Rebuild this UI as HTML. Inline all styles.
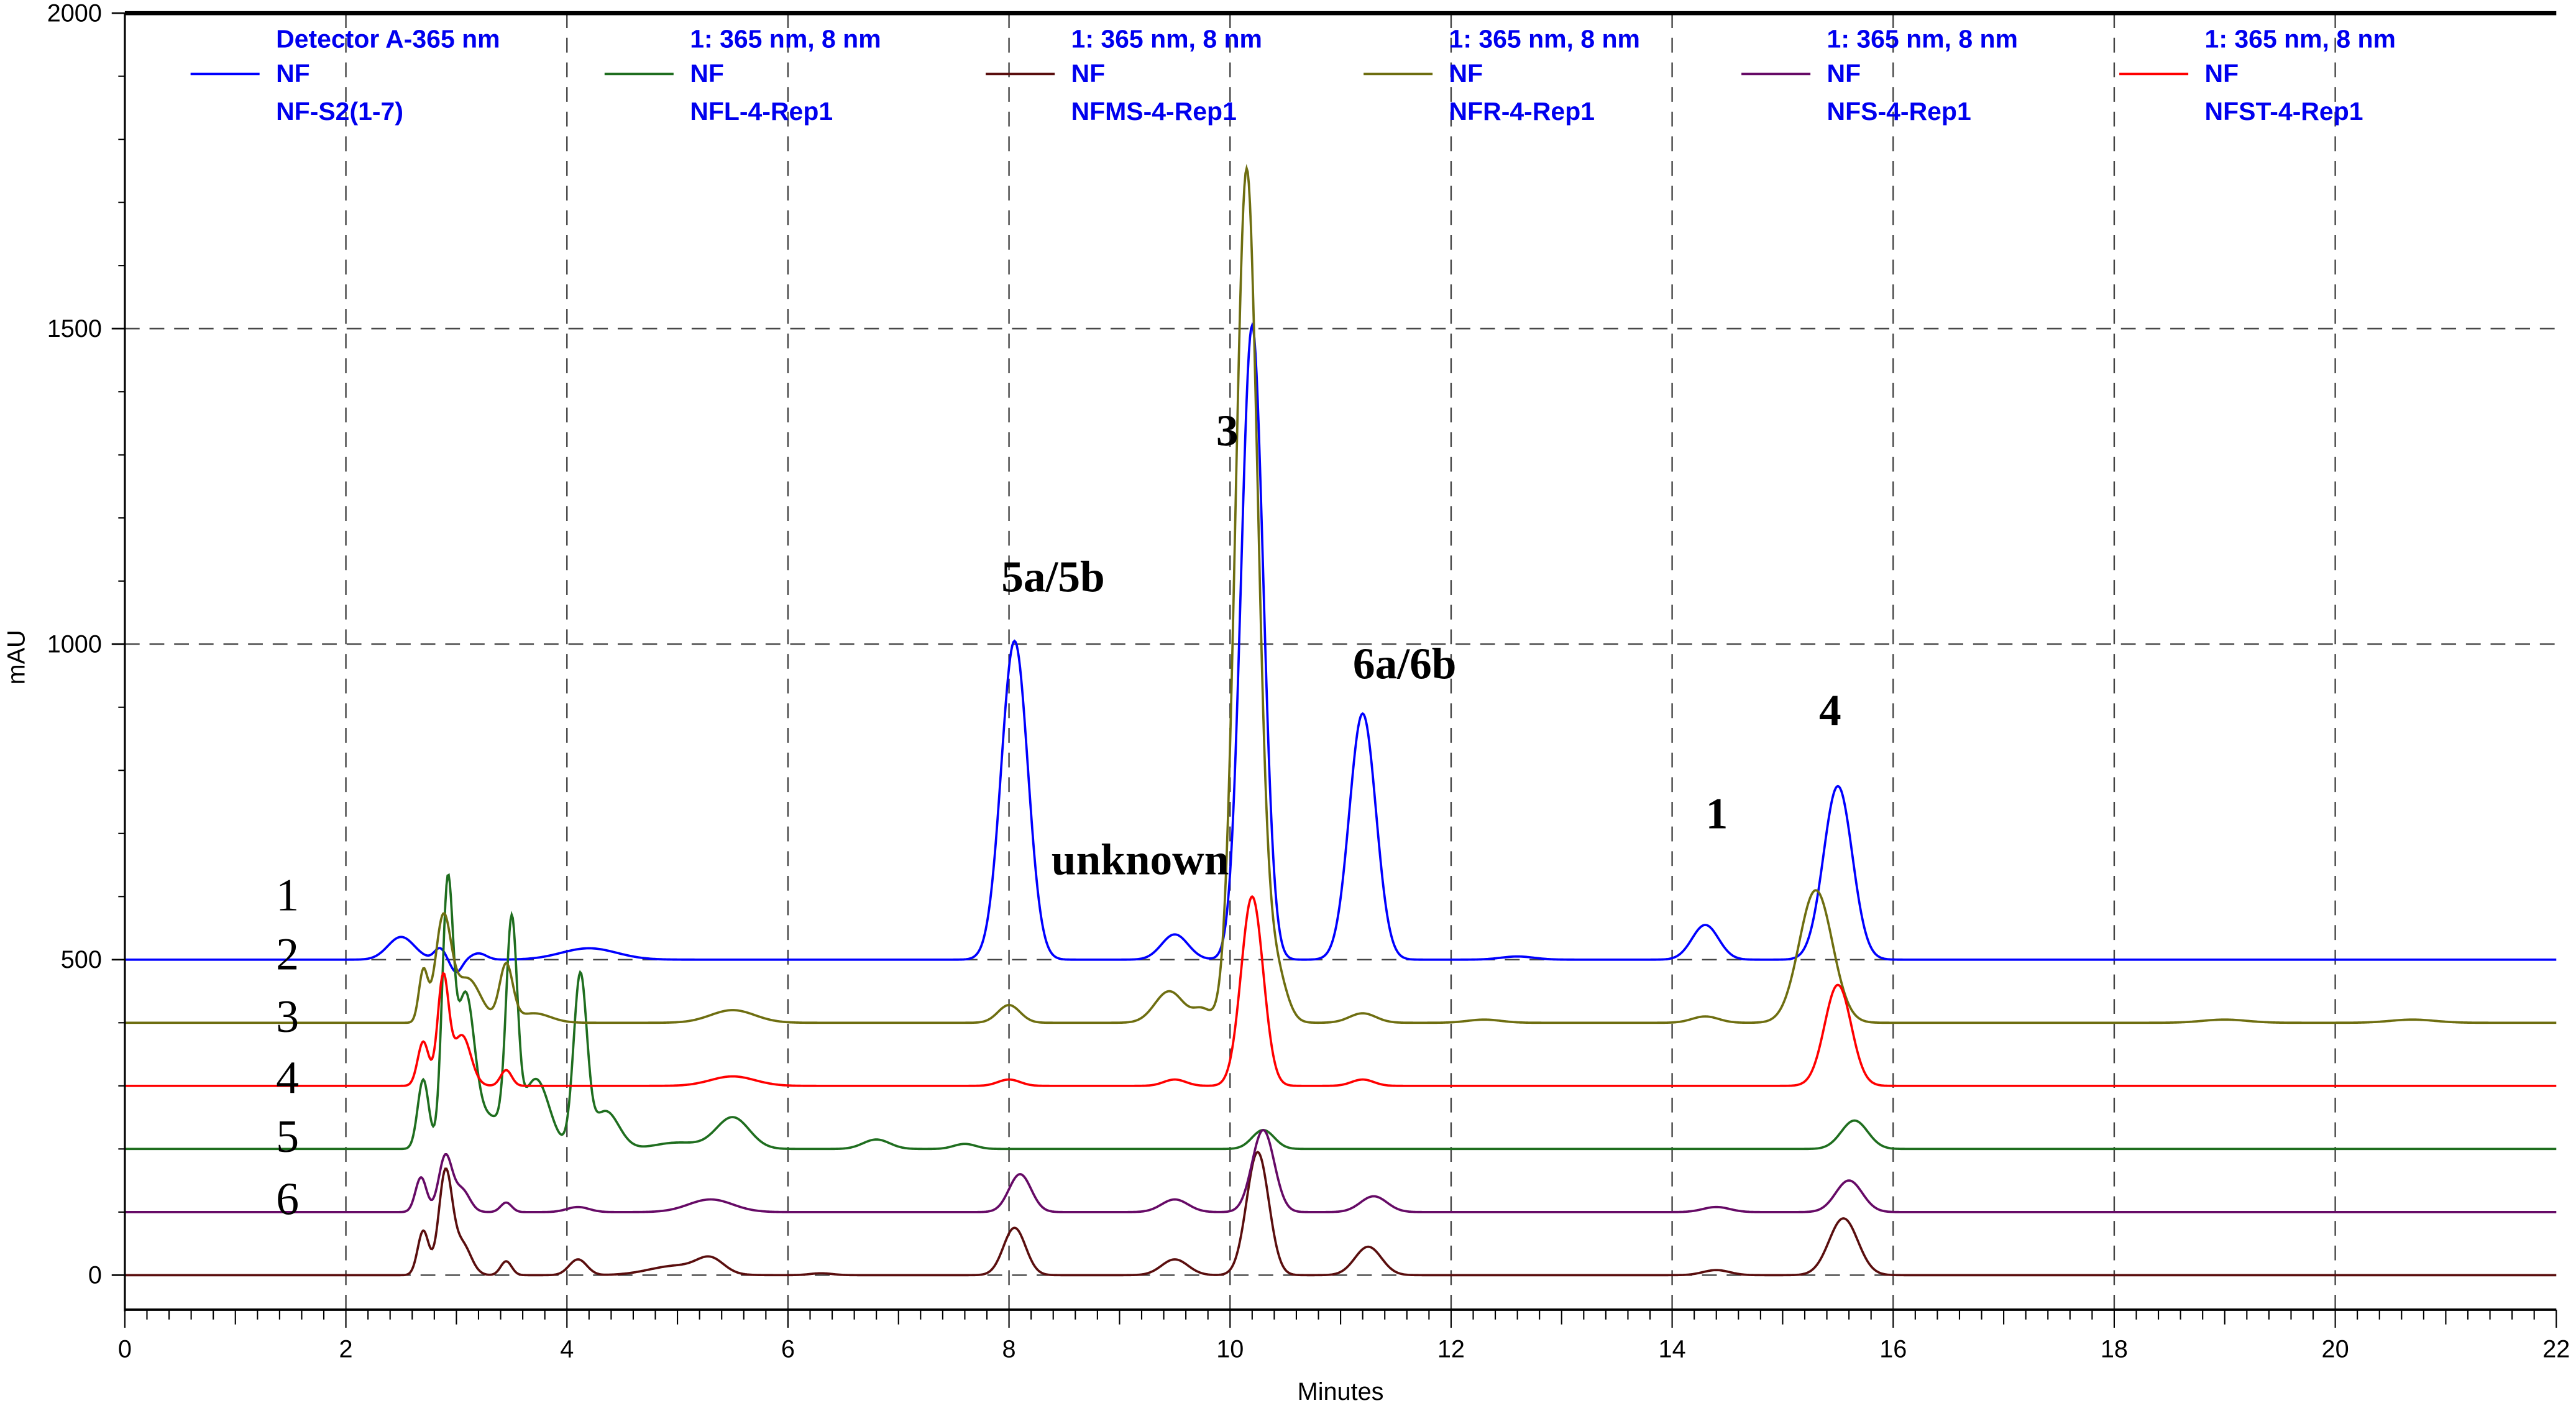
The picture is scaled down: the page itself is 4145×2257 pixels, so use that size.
<!DOCTYPE html>
<html><head><meta charset="utf-8"><style>html,body{margin:0;padding:0;background:#fff}svg{display:block}</style></head>
<body>
<svg id="chart" width="4145" height="2257" viewBox="0 0 1568 853.8" preserveAspectRatio="none" xmlns="http://www.w3.org/2000/svg" font-family="Liberation Sans, Arial, sans-serif">
<g id="grid"></g>
<g id="series"></g>
<g id="axes"></g>
<g id="legend"></g>
<g id="annot" font-family="Liberation Serif, Times New Roman, serif"></g>
</svg>
<script>
const xTicks=[0,2,4,6,8,10,12,14,16,18,20,22];
const yTicks=[0,500,1000,1500,2000];
const seriesNames=["NF-S2(1-7)","NFL-4-Rep1","NFMS-4-Rep1","NFR-4-Rep1","NFS-4-Rep1","NFST-4-Rep1"];
const seriesHeaders=["Detector A-365 nm","1: 365 nm, 8 nm","1: 365 nm, 8 nm","1: 365 nm, 8 nm","1: 365 nm, 8 nm","1: 365 nm, 8 nm"];
const seriesColors=["#0000ff","#1f6e1f","#5a0e0e","#6e6e10","#660a66","#ff0000"];
const seriesOffsets=[500,200,0,400,100,300];
// peaks: [time(min), height(mAU), width(min)]
const peaksNFS2=[[2.5,36,0.12],[2.85,18,0.05],[3.0,-20,0.05],[3.2,10,0.07],[4.2,18,0.25],[8.05,505,0.12],[9.5,40,0.12],[10.2,1005,0.1],[11.2,390,0.12],[12.6,5,0.15],[14.3,55,0.12],[15.5,275,0.13]];
const peaksNFL=[[2.7,110,0.05],[2.92,400,0.05],[3.08,230,0.08],[3.3,50,0.15],[3.5,330,0.05],[3.72,110,0.12],[4.12,270,0.06],[4.35,60,0.12],[5.0,10,0.2],[5.5,50,0.15],[6.8,15,0.12],[7.6,8,0.1],[10.3,30,0.1],[15.65,45,0.12]];
const peaksNFMS=[[2.7,70,0.05],[2.9,160,0.06],[3.05,50,0.08],[3.45,22,0.05],[4.1,25,0.08],[5.0,15,0.25],[5.3,22,0.12],[6.3,3,0.1],[8.05,75,0.1],[9.5,25,0.12],[10.25,195,0.1],[11.25,45,0.12],[14.4,8,0.12],[15.55,90,0.13]];
const peaksNFR=[[2.7,80,0.04],[2.88,160,0.07],[3.1,70,0.12],[3.45,90,0.06],[3.7,15,0.15],[5.5,20,0.2],[8.0,28,0.1],[9.45,50,0.13],[9.75,20,0.08],[10.15,1350,0.1],[10.4,90,0.1],[11.2,15,0.12],[12.3,5,0.15],[14.3,10,0.12],[15.3,210,0.15],[19,5,0.2],[20.7,5,0.2]];
const peaksNFS=[[2.68,55,0.05],[2.9,88,0.06],[3.05,35,0.07],[3.45,15,0.05],[4.1,8,0.1],[5.3,20,0.2],[8.1,60,0.1],[9.5,20,0.12],[10.3,130,0.1],[11.3,25,0.12],[14.4,8,0.12],[15.6,50,0.12]];
const peaksNFST=[[2.7,70,0.05],[2.88,170,0.05],[3.05,80,0.08],[3.45,25,0.05],[5.5,15,0.2],[8.0,10,0.1],[9.5,10,0.1],[10.2,300,0.1],[11.2,10,0.1],[15.5,160,0.12]];
const seriesPeaks=[peaksNFS2,peaksNFL,peaksNFMS,peaksNFR,peaksNFS,peaksNFST];

const X0=76,X1=1556,Y0=776,Y1=8;
const xs=t=>X0+(t-0)/(22-0)*(X1-X0);
const ys=v=>Y0-(v-0)/(2000-0)*(Y0-Y1);
const NS="http://www.w3.org/2000/svg";
function mk(tag,attrs,parent){const e=document.createElementNS(NS,tag);for(const k in attrs)e.setAttribute(k,attrs[k]);parent.appendChild(e);return e;}
const grid=document.getElementById('grid'),axes=document.getElementById('axes'),ser=document.getElementById('series'),leg=document.getElementById('legend'),ann=document.getElementById('annot');

xTicks.forEach(t=>{
  if(t>0&&t<22){const l=mk('line',{x1:xs(t),x2:xs(t),y1:Y1,y2:797,stroke:'#444','stroke-width':0.9,'stroke-dasharray':'9,6'},grid);
  
  }
  const tx=mk('text',{x:xs(t),y:826,'font-size':15,'text-anchor':'middle',fill:'#000'},axes);tx.textContent=t;
  
  
});
for(let t=0;t<=22.001;t+=0.2){const major=Math.abs(t-Math.round(t))<0.01;mk('line',{x1:xs(t),x2:xs(t),y1:797,y2:797+(major?(Math.round(t)%2==0?11:9):6),stroke:'#000','stroke-width':0.8},axes);}
yTicks.forEach(v=>{
  if(v<2000){const l=mk('line',{x1:X0,x2:X1,y1:ys(v),y2:ys(v),stroke:'#444','stroke-width':0.9,'stroke-dasharray':'9,6'},grid);
  
  }
  const tx=mk('text',{x:62,y:ys(v)+5,'font-size':15,'text-anchor':'end',fill:'#000'},axes);tx.textContent=v;
  
  
  mk('line',{x1:68,x2:X0,y1:ys(v),y2:ys(v),stroke:'#000','stroke-width':1},axes);
});
for(let v=100;v<2000;v+=100){mk('line',{x1:72,x2:X0,y1:ys(v),y2:ys(v),stroke:'#000','stroke-width':0.8},axes);}
mk('line',{x1:X0,x2:X1,y1:Y1,y2:Y1,stroke:'#000','stroke-width':2.5},axes);
mk('line',{x1:X0,x2:X0,y1:Y1,y2:798,stroke:'#000','stroke-width':1.2},axes);
mk('line',{x1:X0,x2:X1,y1:797,y2:797,stroke:'#000','stroke-width':1.5},axes);
let xt=mk('text',{x:816,y:852,'font-size':15,'text-anchor':'middle'},axes);xt.textContent='Minutes';


let yt=mk('text',{x:15,y:400,'font-size':15,'text-anchor':'middle',transform:'rotate(-90 15 400)'},axes);yt.textContent='mAU';



seriesPeaks.forEach((pk,i)=>{
  let d='';
  for(let t=0;t<=22.0001;t+=0.01){
    let v=seriesOffsets[i];
    pk.forEach(p=>{v+=p[1]*Math.exp(-0.5*Math.pow((t-p[0])/p[2],2));});
    d+=(d?'L':'M')+xs(t).toFixed(2)+','+ys(v).toFixed(2);
  }
  const p=mk('path',{d:d,fill:'none',stroke:seriesColors[i],'stroke-width':1.4},ser);
  
  
});

const legX=[168,420,652,882,1112,1342];
seriesNames.forEach((n,i)=>{
  const g=mk('g',{},leg);
  
  
  mk('line',{x1:legX[i]-52,x2:legX[i]-10,y1:45,y2:45,stroke:seriesColors[i],'stroke-width':1.6},g);
  [[seriesHeaders[i],29],['NF',50],[n,73]].forEach(r=>{const t=mk('text',{x:legX[i],y:r[1],'font-size':15.5,'font-weight':'bold',fill:'#0000ee'},g);t.textContent=r[0];});
});

const anns=[["5a/5b",641,360],["3",747,271],["6a/6b",855,413],["unknown",694,532],["1",1045,504],["4",1114,441]];
anns.forEach(a=>{const t=mk('text',{x:a[1],y:a[2],'font-size':27,'font-weight':'bold','text-anchor':'middle'},ann);t.textContent=a[0];
  
  });
const lefts=[["1",554],["2",590],["3",628],["4",665],["5",701],["6",739]];
lefts.forEach(a=>{const t=mk('text',{x:175,y:a[1],'font-size':28,'text-anchor':'middle'},ann);t.textContent=a[0];
  
  });
</script>
</body></html>
